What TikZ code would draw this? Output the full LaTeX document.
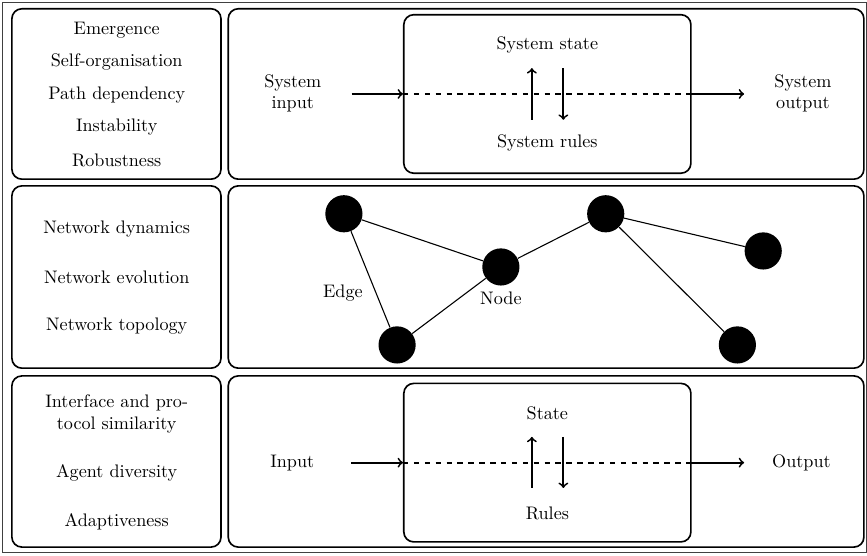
\documentclass[tikz,border=0pt]{standalone}
\usepackage{tikz}
\usetikzlibrary{shapes}
\usepackage{amsmath}
\usepackage{amssymb}

\begin{document}
\begin{tikzpicture}[
	rowbox/.style={draw, line width=0.9pt, rounded corners=5.5pt},
	corebox/.style={draw, line width=0.9pt, rounded corners=5.5pt, minimum width=5.56cm, minimum height=3.07cm, inner sep=0pt},
	netnode/.style={circle, fill=black, minimum size=0.72cm, inner sep=0pt},
	flow/.style={->, line width=1pt},
	feed/.style={->, line width=1pt},
	lbl/.style={align=center, inner sep=1pt}
	]
			\useasboundingbox (0,0) rectangle (16.79,10.75);
			\draw[black!75, line width=0.5pt](0.05,0.06) rectangle (16.77,10.71);
			
			\draw[rowbox](0.23,7.28) rectangle (4.28,10.58);
			\draw[rowbox](4.42,7.28) rectangle (16.73,10.58);
			\draw[rowbox](0.23,3.62) rectangle (4.28,7.15);
			\draw[rowbox](4.42,3.62) rectangle (16.73,7.15);
			\draw[rowbox](0.23,0.155) rectangle (4.28,3.47);
			\draw[rowbox](4.42,0.155) rectangle (16.73,3.47);
			
			\node[lbl](emerg) at (2.26,10.17) {Emergence};
			\node[lbl](selforg) at (2.26,9.54) {Self-organisation};
			\node[lbl](pathdep) at (2.26,8.91) {Path dependency};
			\node[lbl](instab) at (2.26,8.28) {Instability};
			\node[lbl](robust) at (2.26,7.65) {Robustness};
			
			\node[corebox](sys) at (10.60,8.93) {};
			\node[lbl](sysin) at (5.67,8.94) {System\\input};
			\node[lbl](sysout) at (15.55,8.94) {System\\output};
			\node[lbl](sysstate) at (10.60,9.88) {System state};
			\node[lbl](sysrules) at (10.60,7.98) {System rules};
			\coordinate[](sysa) at (6.81,8.93) ;
			\coordinate[](sysb) at (14.41,8.93) ;
			\coordinate[](sysup1) at (10.30,8.43) ;
			\coordinate[](sysup2) at (10.30,9.43) ;
			\coordinate[](sysdn1) at (10.91,9.43) ;
			\coordinate[](sysdn2) at (10.91,8.43) ;
			\draw[flow](sysa) -- (sys.west);
			\draw[line width=1pt, dashed](sys.west) -- (sys.east);
			\draw[flow](sys.east) -- (sysb);
			\draw[feed](sysup1) -- (sysup2);
			\draw[feed](sysdn1) -- (sysdn2);
			
			\node[lbl](netdyn) at (2.26,6.31) {Network dynamics};
			\node[lbl](netevo) at (2.26,5.37) {Network evolution};
			\node[lbl](nettop) at (2.26,4.43) {Network topology};
			
			\node[netnode](n1) at (6.66,6.61) {};
			\node[netnode](n2) at (9.70,5.58) {};
			\node[netnode](n3) at (11.73,6.61) {};
			\node[netnode](n4) at (14.78,5.89) {};
			\node[netnode](n5) at (7.69,4.07) {};
			\node[netnode](n6) at (14.28,4.07) {};
			\draw[semithick](n1) -- (n2);
			\draw[semithick](n1) -- (n5);
			\draw[semithick](n5) -- (n2);
			\draw[semithick](n2) -- (n3);
			\draw[semithick](n3) -- (n4);
			\draw[semithick](n3) -- (n6);
			\node[lbl](edgelbl) at (6.64,5.08) {Edge};
			\node[lbl](nodelbl) at (9.70,4.98) {Node};
			
			\node[lbl](iface) at (2.26,2.73) {Interface and pro-\\tocol similarity};
			\node[lbl](agdiv) at (2.26,1.59) {Agent diversity};
			\node[lbl](adapt) at (2.26,0.64) {Adaptiveness};
			
			\node[corebox](agt) at (10.60,1.79) {};
			\node[lbl](agtin) at (5.66,1.79) {Input};
			\node[lbl](agtout) at (15.52,1.79) {Output};
			\node[lbl](agtstate) at (10.60,2.75) {State};
			\node[lbl](agtrules) at (10.60,0.81) {Rules};
			\coordinate[](agta) at (6.80,1.79) ;
			\coordinate[](agtb) at (14.41,1.79) ;
			\coordinate[](agtup1) at (10.30,1.30) ;
			\coordinate[](agtup2) at (10.30,2.29) ;
			\coordinate[](agtdn1) at (10.91,2.29) ;
			\coordinate[](agtdn2) at (10.91,1.30) ;
			\draw[flow](agta) -- (agt.west);
			\draw[line width=1pt, dashed](agt.west) -- (agt.east);
			\draw[flow](agt.east) -- (agtb);
			\draw[feed](agtup1) -- (agtup2);
			\draw[feed](agtdn1) -- (agtdn2);
			\end{tikzpicture}
\end{document}
